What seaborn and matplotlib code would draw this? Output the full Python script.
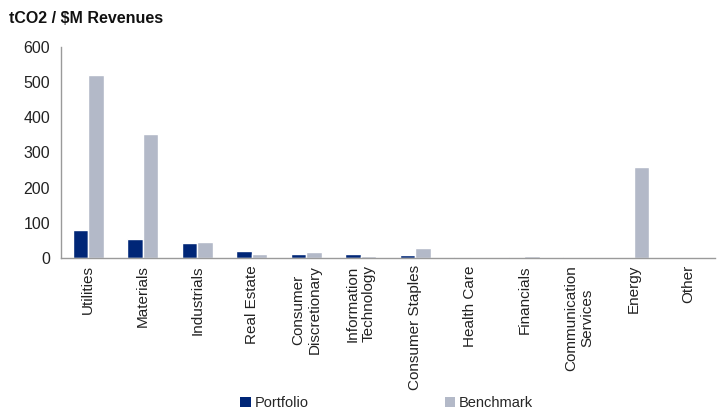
import matplotlib
matplotlib.use("Agg")
import matplotlib.pyplot as plt
import seaborn as sns
import pandas as pd
from matplotlib.patches import Patch

categories = ["Utilities", "Materials", "Industrials", "Real Estate",
              "Consumer\nDiscretionary", "Information\nTechnology",
              "Consumer Staples", "Health Care", "Financials",
              "Communication\nServices", "Energy", "Other"]
portfolio = [80, 53, 42, 21, 12, 12, 8, 2, 2, 2, 0, 0]
benchmark = [520, 353, 45, 11, 16, 6, 28, 4, 5, 3, 259, 0]
series = ["Portfolio", "Benchmark"]
colors = ["#002677", "#B3B9C8"]

df = pd.DataFrame({
    "Sector": categories * 2,
    "Series": [series[0]] * len(categories) + [series[1]] * len(categories),
    "Value": portfolio + benchmark,
})

sns.set_style("white")
plt.rcParams["font.family"] = ["Liberation Sans", "DejaVu Sans"]

fig = plt.figure(figsize=(7.23, 4.11), dpi=100)
ax = fig.add_axes([0.0844, 0.372, 0.905, 0.514])

sns.barplot(data=df, x="Sector", y="Value", hue="Series", palette=colors,
            order=categories, hue_order=series, width=0.57, ax=ax,
            legend=False, saturation=1)

ax.set_ylim(0, 600)
ax.set_yticks([0, 100, 200, 300, 400, 500, 600])
ax.set_xlim(-0.5, len(categories) - 0.5)
ax.set_xlabel("")
ax.set_ylabel("")
ax.tick_params(axis="y", labelsize=11.5, length=0, pad=8, colors="#222222")
ax.tick_params(axis="x", labelsize=11, length=0, pad=5, colors="#222222")
for lab in ax.get_xticklabels():
    lab.set_rotation(90)
    lab.set_va("top")
    lab.set_ha("center")

for s in ["top", "right"]:
    ax.spines[s].set_visible(False)
for s in ["left", "bottom"]:
    ax.spines[s].set_color("#9a9a9a")
    ax.spines[s].set_linewidth(1)

fig.text(0.012, 0.955, "tCO2 / $M Revenues", fontsize=11.5, fontweight="bold",
         color="#111111", ha="left", va="center")

handles = [Patch(facecolor=c, edgecolor="none") for c in colors]
fig.legend(handles, series, loc="center", bbox_to_anchor=(0.535, 0.02),
           ncol=2, frameon=False, fontsize=10.5, handlelength=0.7,
           handleheight=0.7, handletextpad=0.3, columnspacing=9.3)

fig.savefig("out.png", dpi=100)
